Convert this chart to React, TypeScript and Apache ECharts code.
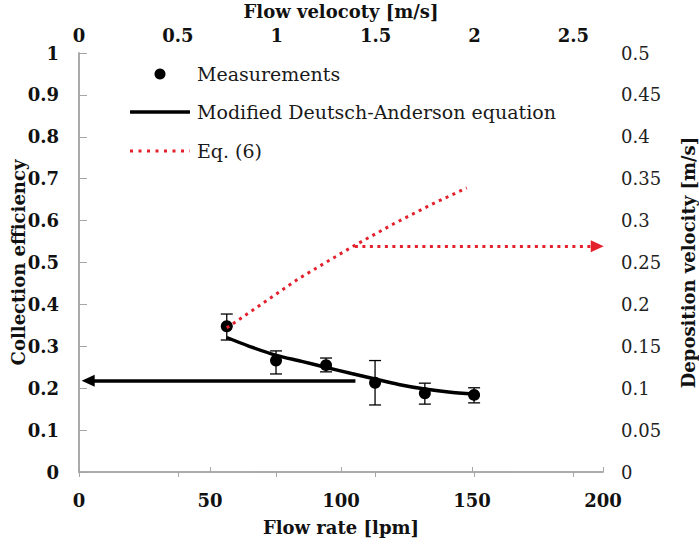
import React, { useEffect, useRef } from 'react';
import * as echarts from 'echarts';

// Measurements (collection efficiency vs flow rate)
const flowRate = [56.4, 75.2, 94.3, 113, 132, 150.8];
const efficiency = [0.348, 0.266, 0.255, 0.213, 0.188, 0.184];
const errLow = [0.315, 0.234, 0.239, 0.16, 0.162, 0.165];
const errHigh = [0.377, 0.289, 0.272, 0.266, 0.212, 0.201];

// Modified Deutsch-Anderson equation (collection efficiency)
const daFlow = [56.4, 65, 75, 85, 94, 104, 113, 122, 132, 141, 150.8];
const daEff = [0.321, 0.3, 0.279, 0.264, 0.25, 0.235, 0.222, 0.209, 0.198, 0.191, 0.186];

// Eq. (6) (deposition velocity, right axis)
const eq6Flow = [56.4, 70, 84, 99, 105, 120, 135, 148];
const eq6Vel = [0.172, 0.201, 0.231, 0.259, 0.27, 0.296, 0.32, 0.339];

// Reading arrows
const effArrow = { from: 105.5, to: 3.5, value: 0.218 };
const velArrow = { from: 105.3, to: 197.8, value: 0.2695 };

const legendLabels = ['Measurements', 'Modified Deutsch-Anderson equation', 'Eq. (6)'];

const FONT = 'DejaVu Serif';
const RED = '#e3202b';
const AXIS_GRAY = '#a6a6a6';

export default function App() {
  const ref = useRef<HTMLDivElement>(null);

  useEffect(() => {
    if (!ref.current) return;
    const chart = echarts.init(ref.current, undefined, { renderer: 'svg' });

    const boldLabel = { fontFamily: FONT, fontSize: 18, fontWeight: 'bold', color: '#111' };
    const titleStyle = { fontFamily: FONT, fontSize: 18, fontWeight: 'bold', color: '#111' };

    const option: any = {
      animation: false,
      backgroundColor: '#fff',
      textStyle: { fontFamily: FONT },
      grid: { left: 79, right: 96, top: 53, bottom: 74, containLabel: false, outerBoundsMode: 'none' },
      xAxis: [
        {
          type: 'value',
          position: 'bottom',
          min: 0,
          max: 200,
          interval: 50,
          name: 'Flow rate [lpm]',
          nameLocation: 'middle',
          nameGap: 46,
          nameMoveOverlap: false,
          nameTextStyle: titleStyle,
          axisLine: { show: true, lineStyle: { color: AXIS_GRAY, width: 1.5 } },
          axisTick: { show: true, inside: true, length: 5, lineStyle: { color: AXIS_GRAY } },
          axisLabel: { ...boldLabel, margin: 19 },
          splitLine: { show: false },
        },
        {
          type: 'value',
          position: 'top',
          min: 0,
          max: 2.65,
          interval: 0.5,
          name: 'Flow velocoty [m/s]',
          nameLocation: 'middle',
          nameGap: 33,
          nameMoveOverlap: false,
          nameTextStyle: titleStyle,
          axisLine: { show: true, lineStyle: { color: AXIS_GRAY, width: 1.5 } },
          axisTick: { show: true, inside: true, length: 5, lineStyle: { color: AXIS_GRAY } },
          axisLabel: { ...boldLabel, margin: 9, showMaxLabel: false },
          splitLine: { show: false },
        },
      ],
      yAxis: [
        {
          type: 'value',
          position: 'left',
          min: 0,
          max: 1,
          interval: 0.1,
          name: 'Collection efficiency',
          nameLocation: 'middle',
          nameGap: 52,
          nameMoveOverlap: false,
          nameTextStyle: titleStyle,
          axisLine: { show: true, lineStyle: { color: AXIS_GRAY, width: 1.5 } },
          axisTick: { show: true, inside: true, length: 5, lineStyle: { color: AXIS_GRAY } },
          axisLabel: { ...boldLabel, margin: 20 },
          splitLine: { show: false },
        },
        {
          type: 'value',
          position: 'right',
          min: 0,
          max: 0.5,
          interval: 0.05,
          name: 'Deposition velocity [m/s]',
          nameLocation: 'middle',
          nameGap: 76,
          nameMoveOverlap: false,
          nameTextStyle: titleStyle,
          axisLine: { show: true, lineStyle: { color: AXIS_GRAY, width: 1.5 } },
          axisTick: { show: true, inside: false, length: 8, lineStyle: { color: AXIS_GRAY } },
          axisLabel: { fontFamily: FONT, fontSize: 18, fontWeight: 'normal', color: '#222', margin: 18 },
          splitLine: { show: false },
        },
      ],
      series: [
        {
          type: 'custom',
          name: 'Error bars',
          xAxisIndex: 0,
          yAxisIndex: 0,
          data: flowRate.map((x, i) => [x, errLow[i], errHigh[i]]),
          encode: { x: 0, y: [1, 2] },
          renderItem: (params: any, api: any) => {
            const x = api.value(0);
            const lo = api.coord([x, api.value(1)]);
            const hi = api.coord([x, api.value(2)]);
            const w = 6;
            const style = { stroke: '#000', lineWidth: 1.3 };
            return {
              type: 'group',
              children: [
                { type: 'line', shape: { x1: hi[0], y1: hi[1], x2: lo[0], y2: lo[1] }, style },
                { type: 'line', shape: { x1: hi[0] - w, y1: hi[1], x2: hi[0] + w, y2: hi[1] }, style },
                { type: 'line', shape: { x1: lo[0] - w, y1: lo[1], x2: lo[0] + w, y2: lo[1] }, style },
              ],
            };
          },
          silent: true,
        },
        {
          type: 'scatter',
          name: legendLabels[0],
          xAxisIndex: 0,
          yAxisIndex: 0,
          data: flowRate.map((x, i) => [x, efficiency[i]]),
          symbol: 'circle',
          symbolSize: 12,
          itemStyle: { color: '#000', opacity: 1 },
          silent: true,
        },
        {
          type: 'line',
          name: legendLabels[1],
          xAxisIndex: 0,
          yAxisIndex: 0,
          data: daFlow.map((x, i) => [x, daEff[i]]),
          showSymbol: false,
          symbol: 'none',
          smooth: 0.3,
          lineStyle: { color: '#000', width: 3.5 },
          silent: true,
          markLine: {
            silent: true,
            symbol: ['none', 'triangle'],
            symbolSize: [12, 13],
            label: { show: false },
            lineStyle: { color: '#000', width: 3.5, type: 'solid' },
            itemStyle: { color: '#000' },
            emphasis: { disabled: true },
            data: [
              [
                { coord: [effArrow.from, effArrow.value] },
                { coord: [effArrow.to, effArrow.value] },
              ],
            ],
          },
        },
        {
          type: 'line',
          name: legendLabels[2],
          xAxisIndex: 0,
          yAxisIndex: 1,
          data: eq6Flow.map((x, i) => [x, eq6Vel[i]]),
          showSymbol: false,
          symbol: 'none',
          lineStyle: { color: RED, width: 3, type: [3, 4.5] },
          silent: true,
          markLine: {
            silent: true,
            symbol: ['none', 'triangle'],
            symbolSize: [12, 13],
            label: { show: false },
            lineStyle: { color: RED, width: 3, type: [3, 4.5] },
            itemStyle: { color: RED },
            emphasis: { disabled: true },
            data: [
              [
                { coord: [velArrow.from, velArrow.value] },
                { coord: [velArrow.to, velArrow.value] },
              ],
            ],
          },
        },
      ],
      graphic: [
        { type: 'circle', shape: { cx: 160, cy: 74, r: 5.5 }, style: { fill: '#000' }, silent: true },
        {
          type: 'line',
          shape: { x1: 130, y1: 112, x2: 190, y2: 112 },
          style: { stroke: '#000', lineWidth: 3.5 },
          silent: true,
        },
        {
          type: 'line',
          shape: { x1: 130, y1: 151, x2: 190, y2: 151 },
          style: { stroke: RED, lineWidth: 3, lineDash: [3, 5.5] },
          silent: true,
        },
        ...legendLabels.map((t, i) => ({
          type: 'text',
          x: 197,
          y: [74, 112, 151][i],
          silent: true,
          style: {
            text: t,
            fontFamily: FONT,
            fontSize: 19,
            fill: '#1a1a1a',
            verticalAlign: 'middle',
            align: 'left',
          },
        })),
      ],
    };

    chart.setOption(option);
    return () => chart.dispose();
  }, []);

  return (
    <div
      ref={ref}
      style={{ position: 'fixed', left: 0, top: 0, width: 699, height: 546, background: '#fff' }}
    />
  );
}
